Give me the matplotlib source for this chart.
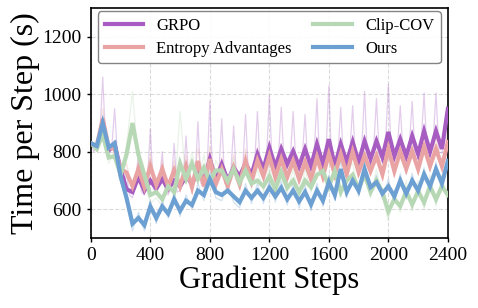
"""
Time per step vs gradient steps: GRPO, Entropy Advantages, Clip-COV, Ours.
Thick line = smoothed curve, thin faint line = raw log.
"""
import numpy as np
import matplotlib
matplotlib.use('Agg')
import matplotlib.pyplot as plt

# --- data ---
# smoothed curves, every 40 steps (0..2400)
STEPS_SMOOTH = np.arange(0, 2401, 40)
grpo_smooth = [830, 815, 880, 805, 825, 740, 670, 660, 712, 665,
               700, 672, 705, 670, 700, 680, 715, 690, 730, 700,
               775, 705, 757, 700, 745, 715, 760, 720, 792, 740,
               815, 747, 810, 757, 802, 750, 810, 750, 827, 757,
               844, 750, 827, 764, 834, 764, 837, 775, 837, 781,
               869, 785, 844, 785, 855, 792, 872, 800, 872, 810, 950]
entropy_smooth = [830, 820, 915, 815, 810, 740, 728, 680, 740, 678,
                  750, 685, 740, 680, 735, 680, 750, 677, 768, 680,
                  775, 687, 740, 680, 745, 687, 768, 698, 770, 715,
                  785, 712, 775, 712, 768, 705, 764, 705, 781, 715,
                  792, 722, 792, 722, 800, 729, 785, 733, 785, 722,
                  810, 733, 800, 740, 802, 740, 816, 750, 810, 750, 834]
clip_smooth = [830, 810, 860, 780, 785, 720, 790, 900, 790, 720,
               650, 660, 635, 680, 660, 760, 705, 760, 705, 745,
               700, 735, 735, 698, 740, 694, 735, 690, 700, 680,
               715, 670, 729, 675, 700, 660, 700, 677, 720, 733,
               680, 733, 660, 700, 720, 670, 722, 660, 700, 660,
               593, 635, 611, 663, 617, 663, 624, 680, 635, 680, 650]
ours_smooth = [830, 820, 900, 815, 830, 715, 640, 550, 570, 545,
               610, 570, 610, 585, 635, 595, 630, 615, 665, 650,
               705, 660, 650, 665, 645, 625, 665, 640, 665, 640,
               675, 645, 675, 635, 665, 628, 660, 617, 665, 630,
               695, 650, 740, 660, 700, 665, 740, 677, 694, 655,
               680, 645, 700, 655, 700, 665, 722, 680, 740, 690, 768]

# raw logs: GRPO every 20 steps, the others every 40 steps
STEPS_RAW20 = np.arange(0, 2401, 20)
grpo_raw = [835, 800, 820, 850, 1060, 830, 790, 810, 950, 780,
            730, 690, 720, 650, 640, 680, 800, 660, 650, 690,
            880, 670, 660, 690, 800, 660, 650, 680, 830, 660,
            665, 690, 855, 690, 675, 700, 905, 690, 685, 720,
            975, 700, 690, 720, 915, 690, 685, 720, 890, 700,
            700, 730, 930, 710, 705, 750, 940, 730, 725, 760,
            995, 740, 735, 770, 955, 745, 740, 770, 940, 740,
            735, 770, 930, 740, 735, 780, 985, 745, 740, 790,
            1030, 740, 735, 780, 955, 750, 750, 790, 960, 755,
            750, 800, 1010, 765, 760, 800, 985, 770, 765, 820,
            1035, 775, 770, 810, 960, 775, 770, 815, 975, 780,
            775, 830, 1005, 790, 785, 830, 1005, 800, 795, 850, 960]
entropy_raw = [830, 810, 950, 800, 840, 720, 760, 665, 770, 665,
               790, 670, 770, 665, 770, 665, 790, 660, 810, 665,
               820, 670, 780, 665, 790, 670, 810, 685, 815, 700,
               830, 700, 815, 700, 810, 690, 805, 690, 825, 700,
               840, 705, 835, 705, 845, 715, 830, 715, 830, 705,
               855, 715, 845, 725, 845, 725, 860, 735, 855, 735, 880]
clip_raw = [830, 800, 880, 760, 800, 690, 820, 1010, 760, 700,
            620, 640, 610, 700, 640, 940, 690, 800, 690, 790,
            680, 770, 720, 680, 780, 675, 770, 670, 740, 660,
            750, 650, 770, 655, 740, 640, 740, 660, 760, 770,
            660, 770, 640, 740, 760, 650, 760, 640, 740, 640,
            560, 670, 590, 700, 595, 700, 600, 720, 610, 720, 620]
ours_raw = [830, 815, 910, 800, 840, 700, 620, 525, 590, 525,
            630, 550, 630, 570, 660, 575, 650, 600, 690, 630,
            730, 640, 630, 690, 625, 605, 690, 620, 690, 620,
            700, 625, 700, 615, 690, 605, 685, 595, 690, 610,
            720, 630, 770, 640, 725, 645, 765, 655, 720, 635,
            705, 625, 725, 635, 725, 645, 745, 660, 765, 670, 790]

LABELS = ['GRPO', 'Entropy Advantages', 'Clip-COV', 'Ours']
COLORS = ['#a65cc0', '#e9a3a3', '#b7d8b4', '#6c9fd2']
X_TICKS = [0, 400, 800, 1200, 1600, 2000, 2400]
Y_TICKS = [600, 800, 1000, 1200]

plt.rcParams['font.family'] = ['Liberation Serif', 'DejaVu Serif']

fig = plt.figure(figsize=(4.78, 3.08), dpi=100)
ax = fig.add_axes([0.190, 0.227, 0.747, 0.747])

raws = [(STEPS_RAW20, grpo_raw), (STEPS_SMOOTH, entropy_raw),
        (STEPS_SMOOTH, clip_raw), (STEPS_SMOOTH, ours_raw)]
smooths = [grpo_smooth, entropy_smooth, clip_smooth, ours_smooth]

# faint raw logs underneath
for (xs, ys), c in zip(raws, COLORS):
    ax.plot(xs, ys, color=c, lw=0.9, alpha=0.3, zorder=2)

# smoothed curves on top
for ys, c, lab in zip(smooths, COLORS, LABELS):
    ax.plot(STEPS_SMOOTH, ys, color=c, lw=3, label=lab, zorder=3,
            solid_joinstyle='miter')

ax.set_xlim(0, 2400)
ax.set_ylim(500, 1300)
ax.set_xticks(X_TICKS)
ax.set_yticks(Y_TICKS)
ax.tick_params(labelsize=14, length=3, width=1)
ax.set_xlabel('Gradient Steps', fontsize=22, labelpad=1)
ax.set_ylabel('Time per Step (s)', fontsize=23, labelpad=2)
ax.grid(True, ls='--', color='#cccccc', lw=0.8, alpha=0.7)
ax.set_axisbelow(True)
for sp in ax.spines.values():
    sp.set_linewidth(1.2)

ax.legend(loc='upper left', bbox_to_anchor=(0.02, 0.74, 0.96, 0.245),
          mode='expand', ncol=2, fontsize=12, handlelength=2.3,
          borderaxespad=0, framealpha=0.9, edgecolor='#777777',
          labelspacing=0.4, handletextpad=0.8, columnspacing=1.0)

fig.savefig('out.png', dpi=100, facecolor='white')
plt.close(fig)
